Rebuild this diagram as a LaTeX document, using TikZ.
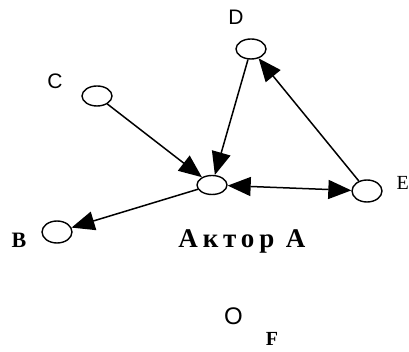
\documentclass[tikz,border=0pt]{standalone}
\usepackage{fontspec}
\setmainfont{Liberation Serif}
\setsansfont{Liberation Sans}
\usetikzlibrary{arrows.meta,shapes.geometric}
\tikzset{
  actor/.style={ellipse,draw,line width=1.4pt,minimum width=30pt,minimum height=20pt,inner sep=0pt},
  sanslabel/.style={font=\sffamily\fontsize{21}{21}\selectfont,inner sep=0pt,anchor=base},
  seriflabel/.style={font=\bfseries\fontsize{22}{22}\selectfont,inner sep=0pt,anchor=base},
  link/.style={line width=1.5pt,-{Triangle[length=23pt,width=19pt]}},
  dlink/.style={line width=1.5pt,{Triangle[length=23pt,width=19pt]}-{Triangle[length=23pt,width=19pt]}}
}
\begin{document}
\begin{tikzpicture}[x=1pt,y=-1pt]
\useasboundingbox[fill=white] (0,0) rectangle (409,352);
\node[actor] (D) at (251,49) {};
\node[actor] (C) at (97,96) {};
\node[actor,minimum height=19pt] (A) at (212,185) {};
\node[actor,minimum height=22pt] (E) at (367,191) {};
\node[actor,minimum height=22pt] (B) at (57,232) {};

\node[sanslabel] (lD) at (236,25) {D};
\node[sanslabel] (lC) at (55,88.5) {C};
\node[seriflabel] (lB) at (19,248) {B};
\node[font=\fontsize{20}{20}\selectfont,inner sep=0pt,anchor=base east] (lE) at (409,190) {E};
\node[inner sep=0pt,anchor=base,font=\bfseries\fontsize{27}{27}\selectfont\addfontfeature{LetterSpace=18}] (lA) at (242,248) {Актор A};
\node[sanslabel,font=\sffamily\fontsize{24}{24}\selectfont] (lO) at (233.5,324.5) {O};
\node[seriflabel,font=\bfseries\fontsize{20}{20}\selectfont] (lF) at (272,345) {F};

\draw[link] (C) -- (A);
\draw[link] (D) -- (A);
\draw[link] (A) -- (B);
\draw[dlink] (A) -- (E);
\draw[link] (E) -- (D);
\end{tikzpicture}
\end{document}
